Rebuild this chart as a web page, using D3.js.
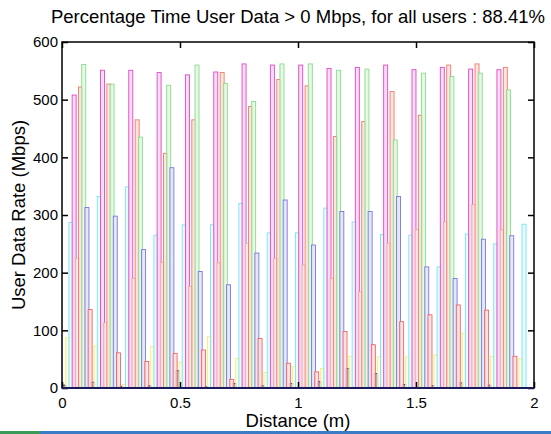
<!DOCTYPE html>
<html><head><meta charset="utf-8">
<script src="https://cdn.jsdelivr.net/npm/d3@7"></script>
<style>
body{margin:0;background:#fff}
svg{display:block}
text{font-family:Arial,"Liberation Sans",sans-serif;fill:#000}
</style>
</head><body>
<svg id="chart" width="551" height="434"></svg>
<script>
// ---- data ----
const distances = [0.065, 0.185, 0.305, 0.425, 0.545, 0.665, 0.785, 0.905, 1.025, 1.145, 1.265, 1.385, 1.505, 1.625, 1.745, 1.865, 1.985];
const seriesNames = ["User 1","User 2","User 3","User 4","User 5","User 6","User 7","User 8","User 9"];
const user1 = [5, 10, 3, 4, 30, 2, 8, 4, 8, 11, 34, 25, 6, 4, 9, 5, 0];
const user2 = [87, 73, 6, 72, 45, 89, 51, 27, 37, 34, 55, 54, 54, 57, 95, 55, 51];
const user3 = [287, 332, 349, 265, 283, 283, 320, 269, 269, 312, 288, 266, 265, 210, 267, 250, 284];
const user4 = [508, 551, 551, 547, 543, 548, 562, 560, 560, 554, 556, 560, 552, 556, 553, 552, 0];
const user5 = [225, 113, 190, 218, 176, 217, 251, 225, 213, 190, 167, 251, 275, 288, 318, 274, 0];
const user6 = [522, 527, 465, 407, 465, 547, 488, 535, 524, 436, 462, 514, 473, 560, 562, 556, 0];
const user7 = [561, 527, 435, 525, 560, 528, 497, 562, 562, 551, 553, 430, 546, 540, 546, 517, 0];
const user8 = [313, 298, 240, 382, 202, 179, 234, 326, 248, 306, 306, 332, 210, 190, 258, 264, 0];
const user9 = [136, 61, 46, 60, 66, 15, 86, 43, 28, 98, 75, 115, 127, 144, 135, 55, 0];
const seriesValues = [user1, user2, user3, user4, user5, user6, user7, user8, user9];
const edgeColors = ["#22228a","#eeee80","#78e4f0","#e048c4","#f0a8a8","#f07a68","#88dc88","#7878dc","#f06464"];
const fillColors = ["#9090c8","#fffde0","#e4fbff","#f9d6f2","#fdeaea","#fde2dc","#e2f8e2","#e4e4fa","#fde2e2"];
const xTicks = [0, 0.5, 1, 1.5, 2];
const yTicks = [0, 100, 200, 300, 400, 500, 600];
const titleText = "Percentage Time User Data > 0 Mbps, for all users : 88.41%";
const xLabel = "Distance (m)";
const yLabel = "User Data Rate (Mbps)";

// ---- layout ----
const svg = d3.select("#chart");
const L = 62, R = 534, T = 42, B = 388;
const x = d3.scaleLinear().domain([0, 2]).range([L, R]);
const y = d3.scaleLinear().domain([0, 600]).range([B, T]);
const inner = d3.scaleBand().domain(d3.range(seriesNames.length)).range([-0.061, 0.061]);
const barW = (x(inner.bandwidth()) - x(0)) * 1.25;

// bars
const barsG = svg.append("g");
seriesValues.forEach((vals, i) => {
  barsG.append("g").selectAll("rect")
    .data(vals.map((v, j) => ({v, d: distances[j]})).filter(o => o.v > 0))
    .join("rect")
    .attr("x", o => x(o.d + inner(i) + inner.bandwidth() / 2) - barW / 2)
    .attr("width", barW)
    .attr("y", o => y(o.v))
    .attr("height", o => y(0) - y(o.v))
    .attr("fill", fillColors[i])
    .attr("fill-opacity", 0.85)
    .attr("stroke", edgeColors[i])
    .attr("stroke-width", 0.9);
});

// axes (ticks inward)
const fmt = d3.format("~g");
const gx = svg.append("g").attr("transform", `translate(0,${B})`)
  .call(d3.axisBottom(x).tickValues(xTicks).tickFormat(fmt).tickSize(-6).tickSizeOuter(0).tickPadding(9));
const gxt = svg.append("g").attr("transform", `translate(0,${T})`)
  .call(d3.axisTop(x).tickValues(xTicks).tickFormat("").tickSize(-6).tickSizeOuter(0));
const gy = svg.append("g").attr("transform", `translate(${L},0)`)
  .call(d3.axisLeft(y).tickValues(yTicks).tickFormat(fmt).tickSize(-6).tickSizeOuter(0).tickPadding(4));
const gyr = svg.append("g").attr("transform", `translate(${R},0)`)
  .call(d3.axisRight(y).tickValues(yTicks).tickFormat("").tickSize(-6).tickSizeOuter(0));
[gx, gxt, gy, gyr].forEach(g => {
  g.select(".domain").remove();
  g.selectAll(".tick line").attr("stroke", "#000").attr("stroke-width", 1.5);
  g.selectAll(".tick text").attr("font-size", 15).attr("font-family", "Arial, 'Liberation Sans', sans-serif").attr("fill", "#000");
});

// frame
svg.append("rect").attr("x", L).attr("y", T).attr("width", R - L).attr("height", B - T)
  .attr("fill", "none").attr("stroke", "#000").attr("stroke-width", 1.5);
svg.append("line").attr("x1", L).attr("x2", R).attr("y1", B).attr("y2", B)
  .attr("stroke", "#1a1a5a").attr("stroke-width", 2);

// labels
svg.append("text").attr("x", (L + R) / 2).attr("y", 23).attr("text-anchor", "middle")
  .attr("font-size", 18.5).text(titleText);
svg.append("text").attr("x", (L + R) / 2).attr("y", 427).attr("text-anchor", "middle")
  .attr("font-size", 18.5).text(xLabel);
svg.append("text").attr("transform", `translate(25,${(T + B) / 2}) rotate(-90)`)
  .attr("text-anchor", "middle").attr("font-size", 18.5).text(yLabel);

// bottom strip from the source picture
svg.append("rect").attr("x", 0).attr("y", 431).attr("width", 551).attr("height", 3).attr("fill", "#3c7cc4");
svg.append("rect").attr("x", 0).attr("y", 431).attr("width", 40).attr("height", 3).attr("fill", "#3c9a58");
</script>
</body></html>
